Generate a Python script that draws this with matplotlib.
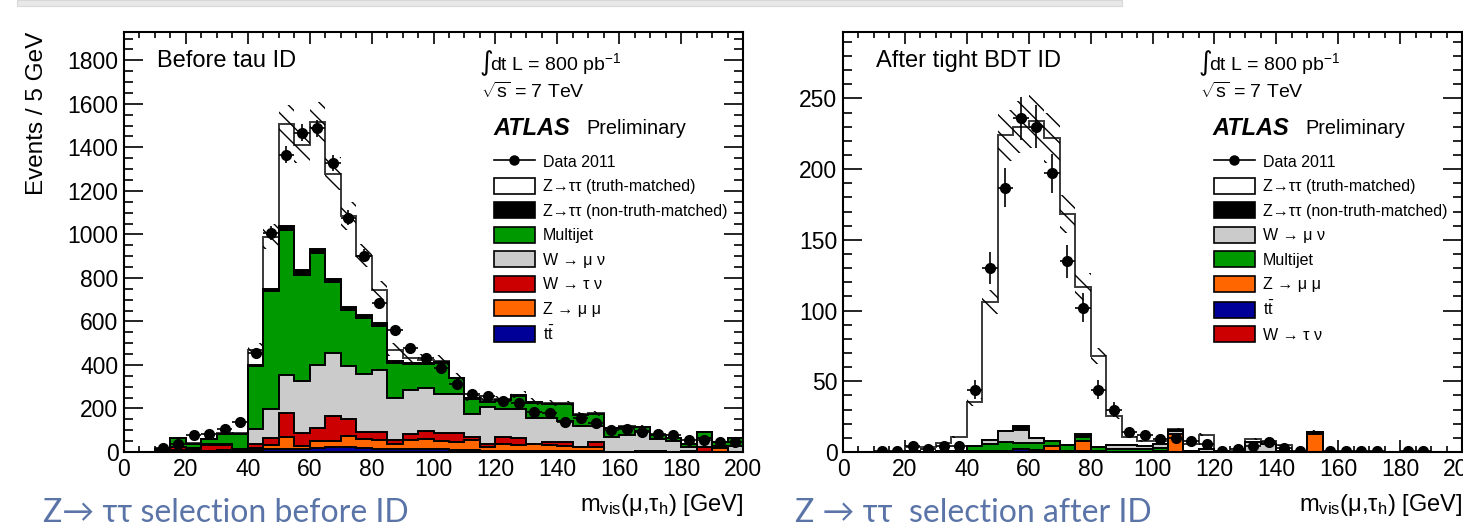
import matplotlib.pyplot as plt
import numpy as np
from matplotlib.lines import Line2D
from matplotlib.patches import Patch, Rectangle
from matplotlib.ticker import MultipleLocator

plt.rcParams["font.family"] = ["Liberation Sans", "DejaVu Sans"]
plt.rcParams["mathtext.fontset"] = "custom"
plt.rcParams["mathtext.rm"] = "Liberation Sans"
plt.rcParams["mathtext.it"] = "Liberation Sans:italic"
plt.rcParams["mathtext.bf"] = "Liberation Sans:bold"
plt.rcParams["hatch.linewidth"] = 1.0

W, H = 1463, 526
bin_edges = np.arange(0, 205, 5)

# ---- before tau ID (events / 5 GeV) ----
left_ttbar = [0, 0, 0, 1, 1, 2, 3, 8, 10, 15, 15, 14, 18, 21, 21, 18, 15, 14, 12, 12,
              12, 10, 8, 6, 6, 5, 4, 4, 4, 3, 3, 2, 2, 1, 1, 1, 1, 1, 0, 0]
left_zmumu = [0, 0, 1, 8, 3, 4, 5, 3, 8, 18, 56, 12, 31, 28, 53, 43, 41, 22, 44, 47,
              38, 35, 45, 17, 32, 25, 34, 26, 25, 20, 20, 0, 0, 5, 5, 0, 0, 0, 18, 0]
left_wtaunu = [0, 0, 2, 12, 8, 28, 25, 3, 18, 31, 107, 61, 63, 118, 78, 33, 38, 17, 26, 38,
               38, 41, 15, 15, 33, 34, 0, 15, 16, 0, 22, 0, 0, 0, 0, 0, 3, 22, 0, 0]
left_wmunu = [0, 0, 2, 4, 5, 2, 5, 2, 69, 132, 174, 238, 289, 289, 243, 266, 281, 193, 202, 198,
              177, 182, 106, 169, 126, 132, 118, 111, 99, 98, 76, 69, 74, 92, 55, 49, 19, 41, 8, 27]
left_multijet = [0, 0, 9, 39, 21, 22, 45, 66, 290, 546, 668, 490, 513, 326, 258, 258, 205, 164, 121, 110,
                 145, 70, 71, 21, 41, 62, 71, 64, 76, 50, 53, 39, 41, 16, 15, 15, 15, 27, 19, 38]
left_ztt_fake = [0, 0, 0, 0, 0, 0, 0, 0, 3, 8, 20, 23, 18, 14, 14, 12, 15, 10, 5, 5,
                 4, 1, 1, 2, 2, 2, 2, 2, 1, 1, 1, 0, 0, 0, 0, 0, 0, 0, 0, 0]
left_ztt_true = [0, 0, 0, 0, 2, 3, 5, 6, 73, 240, 466, 573, 585, 483, 417, 272, 148, 51, 21, 14,
                 6, 2, 1, 10, 4, 3, 3, 2, 2, 3, 2, 2, 2, 2, 1, 1, 1, 1, 1, 1]
left_data = [0, 0, 20, 35, 79, 82, 104, 136, 456, 1008, 1367, 1468, 1488, 1327, 1077, 902, 683, 562, 478, 431,
             386, 311, 268, 258, 235, 223, 182, 177, 136, 156, 132, 101, 106, 94, 83, 79, 56, 53, 45, 45]

# ---- after tight BDT ID ----
right_wtaunu = [0] * 40
right_ttbar = [0, 0, 0, 0, 0.3, 0, 0, 0, 1, 1, 1, 2, 1.5, 0.5, 1, 0.5, 1, 0.3, 0.3, 0.3,
               0.5, 0, 0.2, 0.3, 0, 0, 0, 0, 0, 0, 0, 0, 0, 0, 0, 0, 0, 0, 0, 0]
right_zmumu = [0, 0, 0, 0, 0, 0, 0, 0, 0, 0, 0, 0, 0, 3.5, 0, 7, 0, 0, 0, 0,
               0, 13, 0, 0, 0, 0, 0, 0, 0, 0, 12.5, 0, 0, 0, 0, 0, 0, 0, 0, 0]
right_multijet = [0, 0, 0, 0, 0.5, 0, 0.5, 1, 3, 4.5, 6, 4.5, 5, 4, 4, 3, 2.5, 2, 1.5, 1.7,
                  2, 0, 0, 0, 0, 0, 0, 0, 0, 0, 0, 0, 0, 0, 0, 0, 0, 0, 0, 0]
right_wmunu = [0, 0, 0, 0, 0, 0, 0, 0, 0.5, 3, 8, 9, 3.3, 0, 0, 0, 0, 3, 3, 2.5,
               3, 1.5, 0.5, 2, 0, 0, 7, 5.4, 1, 0, 0, 0, 0, 0, 0, 0, 0, 0, 0, 0]
right_ztt_fake = [0, 0, 0, 0, 0, 0, 0, 0, 0, 0, 0, 3, 0, 0, 0, 2, 0, 0, 0, 0,
                  0, 1, 0, 0, 0, 0, 0, 0, 0, 0, 1.6, 0, 0, 0, 0, 0, 0, 0, 0, 0]
right_ztt_true = [0, 0, 0, 0, 3, 3.5, 6, 9.5, 31, 97.5, 209, 211.5, 224, 214, 163, 104.5, 64.5, 20, 5.8, 3.3,
                  2.3, 0.5, 4.7, 10, 0.5, 0.5, 2, 2.4, 3.7, 0.3, 0, 0.3, 0.3, 0.3, 0.3, 0, 0.3, 0.3, 0, 0.3]
right_data = [0, 0, 1, 1, 4, 2, 4, 4, 44, 130, 187, 236, 230, 197, 135, 102, 44, 30, 14, 12,
              9, 10, 8, 6, 1, 2, 4, 7, 3, 1, 0, 1, 1, 1, 1, 0, 1, 1, 0, 0]

COL = {
    "ztt_true": "white",
    "ztt_fake": "black",
    "multijet": "#009a00",
    "wmunu": "#cbcbcb",
    "wtaunu": "#cc0000",
    "zmumu": "#ff6600",
    "ttbar": "#000099",
}
LABELS = {
    "ztt_true": "Z→ττ (truth-matched)",
    "ztt_fake": "Z→ττ (non-truth-matched)",
    "multijet": "Multijet",
    "wmunu": "W → μ ν",
    "wtaunu": "W → τ ν",
    "zmumu": "Z → μ μ",
    "ttbar": r"$\mathregular{t\bar{t}}$",
}


def draw_panel(ax, stack, data, ymax, ymajor, yminor, unc_frac, legend_order, leg_x):
    # stack is bottom -> top
    cum = np.zeros(len(bin_edges) - 1)
    tops = []
    for key, vals in stack:
        cum = cum + np.asarray(vals, dtype=float)
        tops.append((key, cum.copy()))
    for key, top in reversed(tops):
        ax.stairs(top, bin_edges, baseline=0, fill=True, facecolor=COL[key],
                  edgecolor="none", zorder=2)
        edge = "#3a3a3a" if key == "ztt_true" else "black"
        ax.stairs(top, bin_edges, baseline=0, color=edge, lw=1.4, zorder=2)

    total = tops[-1][1]
    ax.stairs(total * (1 + unc_frac), bin_edges, baseline=total * (1 - unc_frac),
              fill=True, facecolor="none", edgecolor="black", hatch="\\\\",
              lw=0, zorder=3)

    d = np.asarray(data, dtype=float)
    centers = 0.5 * (bin_edges[1:] + bin_edges[:-1])
    keep = d > 0
    ax.errorbar(centers[keep], d[keep], xerr=2.5, yerr=np.sqrt(d[keep]), fmt="o",
                color="black", ms=7, elinewidth=1.2, capsize=0, zorder=4)

    ax.set_xlim(0, 200)
    ax.set_ylim(0, ymax)
    ax.xaxis.set_major_locator(MultipleLocator(20))
    ax.xaxis.set_minor_locator(MultipleLocator(5))
    ax.yaxis.set_major_locator(MultipleLocator(ymajor))
    ax.yaxis.set_minor_locator(MultipleLocator(yminor))
    ax.tick_params(which="both", direction="in", top=True, right=True,
                   labelsize=16.5, width=1.2)
    ax.tick_params(axis="y", which="major", length=13.4, pad=4)
    ax.tick_params(axis="y", which="minor", length=6.7)
    ax.tick_params(axis="x", which="major", length=8.6, pad=4)
    ax.tick_params(axis="x", which="minor", length=4.3)
    for s in ax.spines.values():
        s.set_linewidth(1.5)

    handles = [Line2D([], [], color="black", marker="o", ms=6.5, lw=1.2)]
    labels = ["Data 2011"]
    for key in legend_order:
        handles.append(Patch(facecolor=COL[key], edgecolor="black", lw=1.2))
        labels.append(LABELS[key])
    ax.legend(handles, labels, loc="upper left",
              bbox_to_anchor=(leg_x / W, 1 - 153 / H), bbox_transform=ax.figure.transFigure,
              frameon=False, fontsize=11.5, handlelength=2.56, handleheight=1.19,
              labelspacing=0.5, handletextpad=0.5, borderpad=0, borderaxespad=0)


fig = plt.figure(figsize=(W / 100, H / 100), dpi=100)
fig.patches.append(Rectangle((17 / W, 1 - 6 / H), (1122 - 17) / W, 6 / H,
                             transform=fig.transFigure, facecolor="#e8e8e8",
                             edgecolor="#d8d8d8", lw=0.8))

ax1 = fig.add_axes([124 / W, 74 / H, 619 / W, 420 / H])
ax2 = fig.add_axes([843 / W, 74 / H, 619 / W, 420 / H])

left_stack = [("ttbar", left_ttbar), ("zmumu", left_zmumu), ("wtaunu", left_wtaunu),
              ("wmunu", left_wmunu), ("multijet", left_multijet),
              ("ztt_fake", left_ztt_fake), ("ztt_true", left_ztt_true)]
right_stack = [("wtaunu", right_wtaunu), ("ttbar", right_ttbar), ("zmumu", right_zmumu),
               ("multijet", right_multijet), ("wmunu", right_wmunu),
               ("ztt_fake", right_ztt_fake), ("ztt_true", right_ztt_true)]

draw_panel(ax1, left_stack, left_data, 1930, 200, 50, 0.06,
           ["ztt_true", "ztt_fake", "multijet", "wmunu", "wtaunu", "zmumu", "ttbar"], 494)
draw_panel(ax2, right_stack, right_data, 297, 50, 10, 0.08,
           ["ztt_true", "ztt_fake", "wmunu", "multijet", "zmumu", "ttbar", "wtaunu"], 1214)

for ax, title, x0 in [(ax1, "Before tau ID", 0), (ax2, "After tight BDT ID", 719)]:
    fig.text((157 + x0) / W, 1 - 61 / H, title, fontsize=17, va="center")
    fig.text((480 + x0) / W, 1 - 63 / H, "∫", fontsize=19, family="DejaVu Sans",
             va="center")
    fig.text((490 + x0) / W, 1 - 64 / H, r"dt L = 800 pb$^{\mathregular{-1}}$",
             fontsize=14, va="center")
    fig.text((481 + x0) / W, 1 - 92 / H, r"$\sqrt{\mathregular{s}}$ = 7 TeV",
             fontsize=14, va="center")
    fig.text((493 + x0) / W, 1 - 129 / H, "ATLAS", fontsize=17, weight="bold",
             style="italic", va="center")
    fig.text((586 + x0) / W, 1 - 129 / H, "Preliminary", fontsize=14.3, va="center")
    fig.text((743 + x0) / W, 1 - 505 / H,
             r"m$_{\mathregular{vis}}$(μ,τ$_{\mathregular{h}}$) [GeV]",
             fontsize=17, ha="right", va="center")

fig.text(37 / W, 1 - 32 / H, "Events / 5 GeV", fontsize=17.5, rotation=90,
         ha="center", va="top")

cap_color = "#5a74a8"
fig.text(43 / W, 1 - 513 / H, "Z→ ττ selection before ID", fontsize=23,
         family=["Lato", "DejaVu Sans"], color=cap_color, va="center")
fig.text(795 / W, 1 - 513 / H, "Z → ττ  selection after ID", fontsize=23,
         family=["Lato", "DejaVu Sans"], color=cap_color, va="center")

fig.savefig("out.png", dpi=100)
